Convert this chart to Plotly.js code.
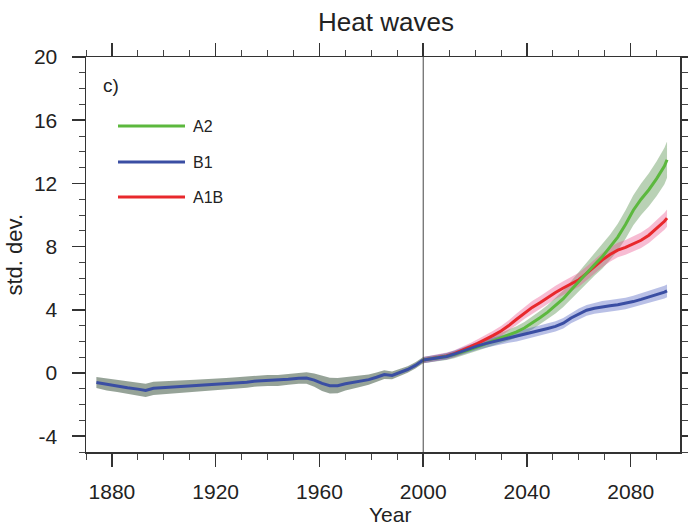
<!DOCTYPE html>
<html><head><meta charset="utf-8">
<script src="https://cdn.plot.ly/plotly-3.0.1.min.js"></script>
<style>html,body{margin:0;padding:0;background:#fff}#chart{width:688px;height:527px}</style>
</head><body><div id="chart"></div>
<script>
// ---- data ----
const histYears  = [1874,1878,1882,1886,1890,1893,1896,1900,1904,1908,1912,1916,1920,1924,1928,1932,1936,1940,1944,1948,1952,1955,1958,1961,1964,1967,1970,1973,1976,1979,1982,1985,1988,1991,1994,1997,2000];
const histValues = [-0.6,-0.72,-0.8,-0.93,-1.02,-1.1,-0.97,-0.93,-0.9,-0.86,-0.8,-0.75,-0.7,-0.67,-0.63,-0.58,-0.5,-0.47,-0.47,-0.4,-0.33,-0.32,-0.45,-0.66,-0.8,-0.8,-0.68,-0.6,-0.52,-0.42,-0.27,-0.1,-0.15,0.02,0.22,0.48,0.82];
const histSpread = [0.35,0.38,0.4,0.4,0.4,0.42,0.42,0.4,0.4,0.4,0.38,0.38,0.38,0.36,0.36,0.36,0.35,0.35,0.35,0.35,0.35,0.36,0.42,0.48,0.5,0.48,0.42,0.38,0.35,0.32,0.3,0.28,0.25,0.22,0.2,0.2,0.2];

const futYears  = [2000,2003,2006,2009,2012,2015,2018,2021,2024,2027,2030,2033,2036,2039,2042,2045,2048,2051,2054,2057,2060,2063,2066,2069,2072,2075,2078,2081,2084,2087,2090,2093,2094];
const a2Values  = [0.82,0.88,0.96,1.04,1.16,1.3,1.48,1.66,1.84,2.02,2.22,2.4,2.6,2.85,3.15,3.5,3.85,4.25,4.7,5.25,5.8,6.3,6.85,7.35,7.95,8.6,9.4,10.3,11.0,11.6,12.3,13.1,13.5];
const a2Spread  = [0.2,0.2,0.2,0.21,0.22,0.23,0.24,0.26,0.28,0.3,0.32,0.34,0.36,0.38,0.4,0.42,0.45,0.48,0.52,0.56,0.6,0.65,0.7,0.75,0.8,0.85,0.9,0.95,1.0,1.05,1.1,1.15,1.15];
const b1Values  = [0.82,0.9,0.98,1.05,1.2,1.38,1.55,1.72,1.86,1.98,2.1,2.2,2.3,2.45,2.56,2.68,2.82,2.95,3.15,3.48,3.75,3.97,4.1,4.2,4.26,4.32,4.4,4.52,4.66,4.8,4.97,5.12,5.2];
const b1Spread  = [0.2,0.2,0.2,0.21,0.22,0.23,0.24,0.25,0.26,0.27,0.28,0.29,0.3,0.3,0.31,0.31,0.32,0.32,0.33,0.33,0.34,0.34,0.35,0.35,0.36,0.36,0.37,0.37,0.38,0.38,0.39,0.4,0.4];
const a1bValues = [0.82,0.9,0.99,1.08,1.22,1.42,1.65,1.88,2.12,2.38,2.66,3.0,3.4,3.8,4.15,4.45,4.78,5.1,5.38,5.62,5.9,6.3,6.75,7.15,7.5,7.78,7.95,8.15,8.4,8.72,9.15,9.6,9.8];
const a1bSpread = [0.2,0.2,0.2,0.21,0.22,0.23,0.24,0.26,0.28,0.3,0.32,0.34,0.36,0.38,0.4,0.41,0.42,0.42,0.43,0.43,0.44,0.44,0.45,0.45,0.46,0.46,0.47,0.48,0.49,0.5,0.52,0.54,0.55];

const scenarioNames = ['A2','B1','A1B'];
const xTickVals = [1880,1920,1960,2000,2040,2080];
const yTickVals = [-4,0,4,8,12,16,20];

// ---- styles ----
const FONT = '"Liberation Sans", Arial, Helvetica, sans-serif';
const TXT = '#222';
const lineColors = {A2:'#5cb83e', B1:'#3a4ea3', A1B:'#e8282c'};
const bandColors = {A2:'rgba(80,140,70,0.40)', B1:'rgba(70,90,190,0.38)', A1B:'rgba(235,80,140,0.38)'};

function band(xs, ys, sp, color){
  const up = ys.map((v,i)=>v+sp[i]);
  const lo = ys.map((v,i)=>v-sp[i]);
  return {x: xs.concat(xs.slice().reverse()), y: up.concat(lo.slice().reverse()),
    type:'scatter', mode:'lines', fill:'toself', fillcolor:color,
    line:{width:0, color:color}, hoverinfo:'skip', showlegend:false};
}
function line(xs, ys, color, name){
  return {x:xs, y:ys, type:'scatter', mode:'lines', name:name,
    line:{color:color, width:3}, showlegend:false};
}

const traces = [
  band(histYears, histValues, histSpread, 'rgba(110,128,112,0.72)'),
  band(futYears, a2Values, a2Spread, bandColors.A2),
  band(futYears, a1bValues, a1bSpread, bandColors.A1B),
  band(futYears, b1Values, b1Spread, bandColors.B1),
  line(futYears, a1bValues, lineColors.A1B, 'A1B'),
  line(futYears, a2Values, lineColors.A2, 'A2'),
  line(futYears, b1Values, lineColors.B1, 'B1'),
  line(histYears, histValues, lineColors.B1, 'historical')
];

// manual legend (paper coords) : plot area 86..680 x 57..452
const L = 86, T = 57, W = 594, H = 395;
const px = p => (p - L)/W;
const py = p => (T + H - p)/H;
const legendY = [126, 162, 197];
const shapes = [
  {type:'line', xref:'x', yref:'paper', x0:2000, x1:2000, y0:0, y1:1, line:{color:'#444', width:1}}
];
const annotations = [
  {text:'c)', xref:'paper', yref:'paper', x:px(101), y:py(86), xanchor:'left', yanchor:'middle', showarrow:false, font:{family:FONT, size:19, color:TXT}},
  {text:'std. dev.', xref:'paper', yref:'paper', x:px(14), y:0.5, xanchor:'center', yanchor:'middle', textangle:-90, showarrow:false, font:{family:FONT, size:22, color:TXT}}
];
scenarioNames.forEach((n,i)=>{
  shapes.push({type:'line', xref:'paper', yref:'paper', x0:px(118), x1:px(185), y0:py(legendY[i]), y1:py(legendY[i]), line:{color:lineColors[n], width:3}});
  annotations.push({text:n, xref:'paper', yref:'paper', x:px(191), y:py(legendY[i]), xanchor:'left', yanchor:'middle', showarrow:false, font:{family:FONT, size:16, color:TXT}});
});

const axisCommon = {
  showgrid:false, zeroline:false, showline:true, linecolor:'#333', linewidth:1.5,
  mirror:'allticks', ticks:'outside', ticklen:13, tickwidth:1.5, tickcolor:'#333',
  tickfont:{family:FONT, size:21, color:TXT}, fixedrange:true
};

const layout = {
  width:688, height:527,
  margin:{l:L, r:688-L-W, t:T, b:527-T-H},
  paper_bgcolor:'#fff', plot_bgcolor:'#fff',
  title:{text:'Heat waves', font:{family:FONT, size:26, color:TXT}, x:(386-L)/W, xref:'paper', xanchor:'center', y:1-22/527, yref:'container', yanchor:'middle'},
  xaxis: Object.assign({}, axisCommon, {
    range:[1870, 2099], tickmode:'array', tickvals:xTickVals, ticktext:xTickVals.map(String),
    minor:{dtick:10, tick0:1870, ticklen:6, tickwidth:1, tickcolor:'#444', ticks:'outside'},
    ticklabelstandoff:7
  }),
  yaxis: Object.assign({}, axisCommon, {
    range:[-5, 20], tickmode:'array', tickvals:yTickVals, ticktext:yTickVals.map(String),
    minor:{dtick:1, tick0:0, ticklen:6, tickwidth:1, tickcolor:'#444', ticks:'outside'},
    ticklabelstandoff:10
  }),
  shapes:shapes,
  annotations:annotations.concat([
    {text:'Year', xref:'paper', yref:'paper', x:px(390), y:py(514), xanchor:'center', yanchor:'middle', showarrow:false, font:{family:FONT, size:21, color:TXT}}
  ]),
  showlegend:false
};

Plotly.newPlot('chart', traces, layout, {displayModeBar:false, staticPlot:true});
</script></body></html>
